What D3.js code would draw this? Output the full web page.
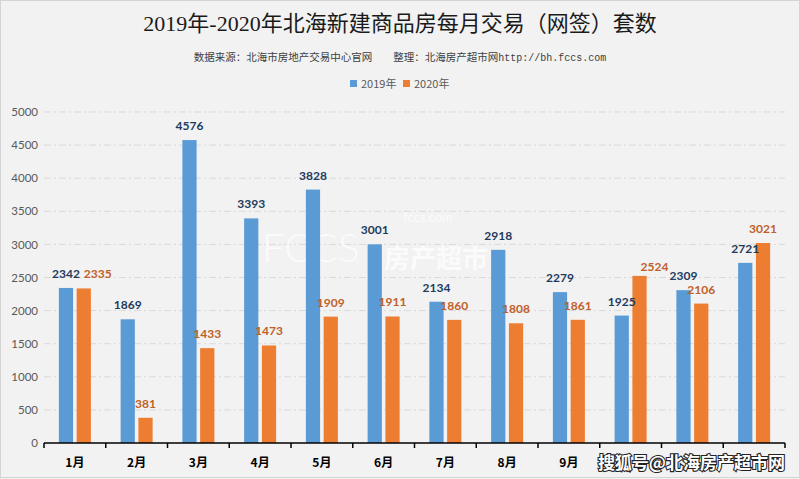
<!DOCTYPE html>
<html><head><meta charset="utf-8">
<script src="https://cdn.jsdelivr.net/npm/d3@7"></script>
<style>
html,body{margin:0;padding:0;background:#f2f2f2;}
svg{display:block;}
</style></head>
<body>
<script>
const months = ["1月","2月","3月","4月","5月","6月","7月","8月","9月","10月","11月","12月"];
const seriesNames = ["2019年","2020年"];
const values2019 = [2342,1869,4576,3393,3828,3001,2134,2918,2279,1925,2309,2721];
const values2020 = [2335,381,1433,1473,1909,1911,1860,1808,1861,2524,2106,3021];
const yTicks = [0,500,1000,1500,2000,2500,3000,3500,4000,4500,5000];
const title = "2019年-2020年北海新建商品房每月交易（网签）套数";
const subtitle = "数据来源：北海市房地产交易中心官网　　整理：北海房产超市网";
const subtitleUrl = "http://bh.fccs.com";

const W = 800, H = 479;
const colors = ["#5b9bd5", "#ed7d31"];
const labelColors = ["#1f3b5e", "#c0602a"];
// label nudges (px) to avoid overlaps, as in the original
const labelNudge = {"1-0": 14, "1-9": 15};
const labelLift = {"1-9": 5};

const svg = d3.select("body").append("svg").attr("width", W).attr("height", H);
svg.append("rect").attr("x",0.5).attr("y",0.5).attr("width",W-1).attr("height",H-2)
  .attr("fill","#f2f2f2").attr("stroke","#d4d4d4");

const x0 = d3.scaleBand().domain(months).range([44, 785]).padding(0);
const x1 = d3.scaleBand().domain(seriesNames).range([0, 32]).paddingInner(0.2);
const y = d3.scaleLinear().domain([0, 5000]).range([443, 112]);

// gridlines
svg.append("g").selectAll("line").data(yTicks.filter(d => d > 0)).join("line")
  .attr("x1", 44).attr("x2", 785)
  .attr("y1", d => y(d)).attr("y2", d => y(d))
  .attr("stroke", "#d9d9d9").attr("stroke-width", 1)
  .attr("stroke-dasharray", "7,3,2,3");

// y axis labels
const yAxis = d3.axisLeft(y).tickValues(yTicks).tickFormat(d3.format("d")).tickSize(0).tickPadding(6);
const gy = svg.append("g").attr("transform", "translate(44,0)").call(yAxis);
gy.select(".domain").remove();
gy.selectAll("text").attr("font-family", "Lato, 'Noto Sans', sans-serif")
  .attr("font-size", 11.5).attr("fill", "#595959");

// watermark (center)
const wm = svg.append("g").attr("opacity", 0.75);
wm.append("text").attr("x", 262).attr("y", 262).text("FCCS")
  .attr("font-family", "Lato, sans-serif").attr("font-size", 40).attr("font-weight", 300)
  .attr("fill", "#ffffff");
wm.append("text").attr("x", 384).attr("y", 268).text("房产超市")
  .attr("font-family", "'Noto Sans CJK SC', sans-serif").attr("font-size", 26).attr("font-weight", 700)
  .attr("fill", "#ffffff");
wm.append("text").attr("x", 428).attr("y", 222).text("fccs.com")
  .attr("font-family", "Lato, sans-serif").attr("font-size", 13)
  .attr("fill", "#ffffff").attr("text-anchor", "middle");

// bars
const data = months.map((m, i) => ({ month: m, vals: [values2019[i], values2020[i]] }));
const groups = svg.append("g").selectAll("g").data(data).join("g")
  .attr("transform", d => `translate(${x0(d.month) + x0.bandwidth()/2 - 16},0)`);
groups.selectAll("rect").data(d => d.vals.map((v, s) => ({ v, s }))).join("rect")
  .attr("x", d => x1(seriesNames[d.s]))
  .attr("width", x1.bandwidth())
  .attr("y", d => y(d.v))
  .attr("height", d => y(0) - y(d.v))
  .attr("fill", d => colors[d.s]);

// value labels
groups.each(function(d, i) {
  d3.select(this).selectAll("text.val").data(d.vals.map((v, s) => ({ v, s }))).join("text")
    .attr("class", "val")
    .attr("x", e => x1(seriesNames[e.s]) + x1.bandwidth()/2 + (labelNudge[e.s + "-" + i] || 0))
    .attr("y", e => y(e.v) - 10 + (labelLift[e.s + "-" + i] || 0))
    .attr("text-anchor", "middle")
    .attr("font-family", "Lato, 'Noto Sans', sans-serif")
    .attr("font-weight", 700).attr("font-size", 12)
    .attr("fill", e => labelColors[e.s])
    .text(e => e.v);
});

// x axis
const gx = svg.append("g").attr("transform", "translate(0,443)");
gx.append("line").attr("x1", 44).attr("x2", 785).attr("y1", 0).attr("y2", 0)
  .attr("stroke", "#000").attr("stroke-width", 1.5);
const boundaries = months.map(m => x0(m)).concat([x0(months[months.length-1]) + x0.bandwidth()]);
gx.selectAll("line.tk").data(boundaries).join("line").attr("class", "tk")
  .attr("x1", d => d).attr("x2", d => d).attr("y1", 0).attr("y2", 5)
  .attr("stroke", "#000").attr("stroke-width", 1.5);
gx.selectAll("text").data(months.slice(0, 9)).join("text")
  .attr("x", d => x0(d) + x0.bandwidth()/2).attr("y", 24)
  .attr("text-anchor", "middle")
  .attr("font-family", "'Noto Sans CJK SC', sans-serif").attr("font-weight", 700)
  .attr("font-size", 12).attr("fill", "#000").text(d => d);

// bottom-right watermark
svg.append("text").attr("x", 785).attr("y", 469).attr("text-anchor", "end")
  .attr("font-family", "'Noto Sans CJK SC', sans-serif").attr("font-weight", 700)
  .attr("font-size", 17).attr("fill", "#ffffff").attr("stroke", "#222")
  .attr("stroke-width", 2.2).attr("paint-order", "stroke")
  .text("搜狐号@北海房产超市网");

// title
svg.append("text").attr("x", 400).attr("y", 31).attr("text-anchor", "middle")
  .attr("font-family", "'Liberation Serif', 'Noto Sans CJK SC', serif")
  .attr("font-size", 22).attr("fill", "#1a1a1a").text(title);

// subtitle
const st = svg.append("text").attr("x", 400).attr("y", 61).attr("text-anchor", "middle")
  .attr("font-family", "'Noto Sans CJK SC', sans-serif").attr("font-size", 10.5).attr("fill", "#404040");
st.append("tspan").text(subtitle);
st.append("tspan").attr("font-family", "'Liberation Mono', monospace").attr("font-size", 10).text(subtitleUrl);

// legend
const legend = svg.append("g").attr("transform", "translate(350,84)");
const li = legend.selectAll("g").data(seriesNames).join("g")
  .attr("transform", (d, i) => `translate(${i * 53},0)`);
li.append("rect").attr("x", 0).attr("y", -4).attr("width", 7).attr("height", 7)
  .attr("fill", (d, i) => colors[i]);
li.append("text").attr("x", 11).attr("y", 4)
  .attr("font-family", "'Noto Sans CJK SC', sans-serif").attr("font-size", 11)
  .attr("fill", "#595959").text(d => d);
</script>
</body></html>
